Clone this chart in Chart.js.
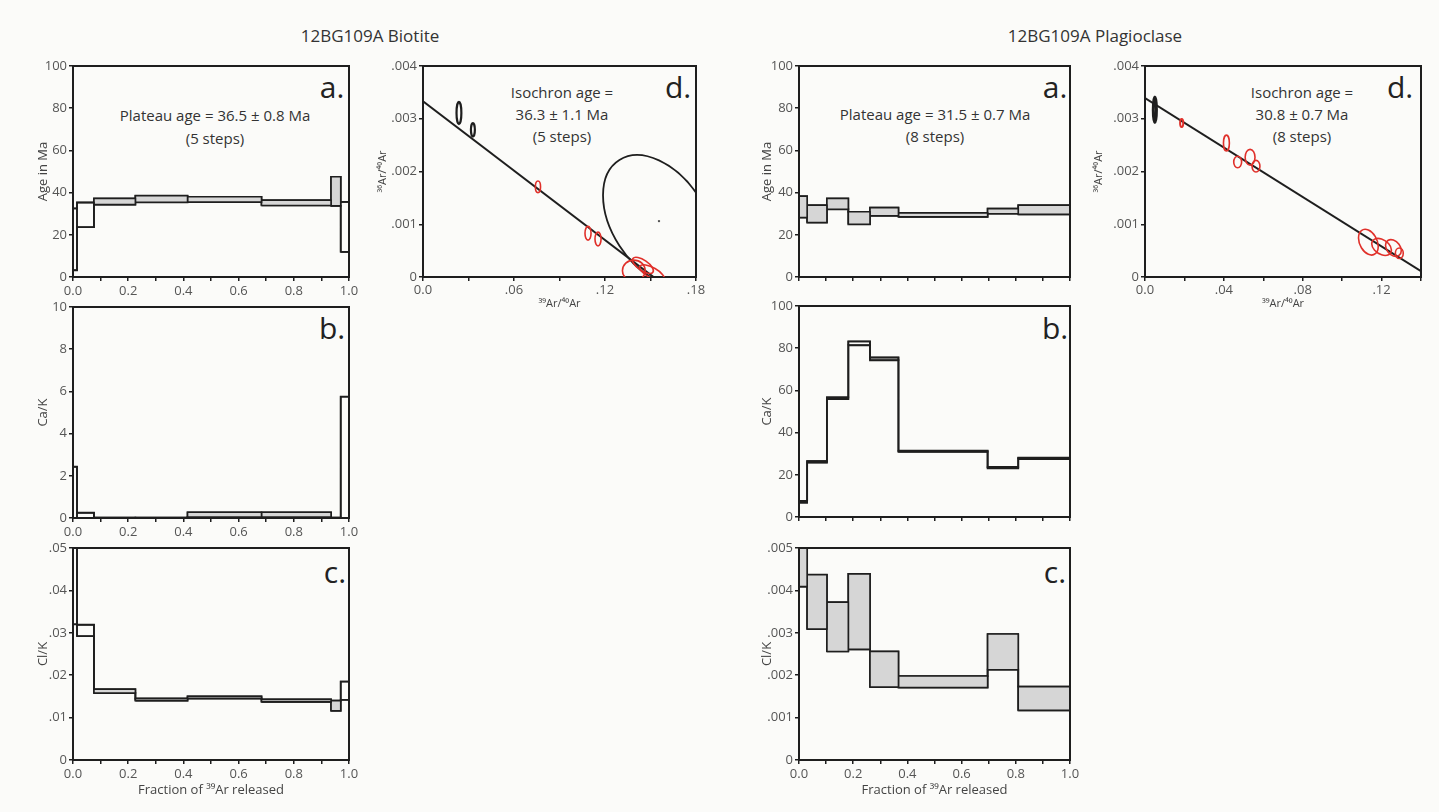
<!DOCTYPE html>
<html>
<head>
<meta charset="utf-8">
<title>12BG109A</title>
<script src="https://cdn.jsdelivr.net/npm/chart.js@4.4.1/dist/chart.umd.min.js"></script>
<style>
  body { margin:0; width:1439px; height:812px; position:relative; overflow:hidden; background:#fbfbf9; font-family:"Open Sans", sans-serif; color:#333; }
  .t { position:absolute; white-space:nowrap; transform:translate(-50%,-50%); line-height:1; }
  .h { font-size:17px; }
  .n { font-size:15px; }
  .l { font-size:30px; color:#222; }
</style>
</head>
<body>

<div class="t h" style="left:370px;top:35px">12BG109A Biotite</div>
<div class="t h" style="left:1095px;top:35px">12BG109A Plagioclase</div>

<div class="t n" style="left:215px;top:115px">Plateau age = 36.5 ± 0.8 Ma</div>
<div class="t n" style="left:215px;top:138px">(5 steps)</div>
<div class="t l" style="left:332px;top:87px">a.</div>
<div class="t l" style="left:332px;top:328px">b.</div>
<div class="t l" style="left:335px;top:572px">c.</div>

<div class="t n" style="left:562px;top:92px">Isochron age =</div>
<div class="t n" style="left:562px;top:114px">36.3 ± 1.1 Ma</div>
<div class="t n" style="left:562px;top:136px">(5 steps)</div>
<div class="t l" style="left:678px;top:87px">d.</div>

<div class="t n" style="left:935px;top:114px">Plateau age = 31.5 ± 0.7 Ma</div>
<div class="t n" style="left:935px;top:136px">(8 steps)</div>
<div class="t l" style="left:1055px;top:87px">a.</div>
<div class="t l" style="left:1055px;top:328px">b.</div>
<div class="t l" style="left:1055px;top:572px">c.</div>

<div class="t n" style="left:1302px;top:92px">Isochron age =</div>
<div class="t n" style="left:1302px;top:114px">30.8 ± 0.7 Ma</div>
<div class="t n" style="left:1302px;top:136px">(8 steps)</div>
<div class="t l" style="left:1400px;top:87px">d.</div>

<script>
// ---- 12BG109A Biotite ----
const bioSteps   = [0, 0.0145, 0.076, 0.226, 0.415, 0.683, 0.935, 0.97, 1.0];
const bioPlateau = [false, false, true, true, true, true, true, false];
const bioAgeLo   = [3.2, 23.6, 34.3, 35.4, 35.5, 33.9, 33.7, 11.9];
const bioAgeHi   = [32.5, 35.3, 37.2, 38.5, 38.0, 36.4, 47.5, 35.6];
const bioCaKLo   = [0, 0, 0, 0, 0.05, 0.05, 0, 0];
const bioCaKHi   = [2.43, 0.25, 0.02, 0.02, 0.27, 0.27, 0.02, 5.75];
const bioClKLo   = [0.032, 0.0292, 0.0158, 0.0140, 0.0145, 0.0137, 0.0116, 0.0142];
const bioClKHi   = [0.07, 0.0319, 0.0167, 0.0145, 0.0150, 0.0143, 0.0140, 0.0185];

// isochron (39Ar/40Ar vs 36Ar/40Ar)
const bioIsoX  = [0, 0.152];
const bioIsoY  = [0.00333, 0];
const bioEllX  = [0.0237, 0.0329, 0.1556, 0.0758, 0.1088, 0.1154, 0.139, 0.145, 0.151];
const bioEllY  = [0.00311, 0.00279, 0.00106, 0.00171, 0.00083, 0.00072, 0.00012, 0.00022, 0.00008];
const bioEllUx = [0.0016, 0.0013, 0.0369, 0.0017, 0.0020, 0.0020, 0.0075, 0.0066, 0.0079];
const bioEllUy = [0, 0, -0.00049, 0, 0, 0, 0, -0.00013, -0.00013];
const bioEllVx = [0, 0, 0, 0, 0, 0, 0, -0.0020, -0.0020];
const bioEllVy = [0.00021, 0.000127, 0.00115, 0.00011, 0.00013, 0.00013, 0.00020, -0.00008, -0.00008];
const bioEllIn = [false, false, false, true, true, true, true, true, true];

// ---- 12BG109A Plagioclase ----
const plgSteps   = [0, 0.03, 0.103, 0.182, 0.262, 0.367, 0.696, 0.809, 1.0];
const plgPlateau = [true, true, true, true, true, true, true, true];
const plgCaKFill = [false, false, false, false, false, false, false, false];
const plgAgeLo   = [28.2, 25.8, 32.1, 25.0, 29.0, 28.5, 30.0, 29.7];
const plgAgeHi   = [38.3, 34.0, 37.2, 30.9, 32.9, 30.4, 32.4, 34.0];
const plgCaKLo   = [6.8, 25.8, 55.9, 81.4, 74.3, 30.9, 23.1, 27.5];
const plgCaKHi   = [7.6, 26.5, 56.7, 83.2, 75.6, 31.4, 23.7, 28.1];
const plgClKLo   = [0.00409, 0.00309, 0.00256, 0.00261, 0.00172, 0.00171, 0.00213, 0.00117];
const plgClKHi   = [0.0056, 0.00437, 0.00372, 0.00439, 0.00256, 0.00198, 0.00297, 0.00173];

const plgIsoX  = [0, 0.14];
const plgIsoY  = [0.00339, 0.00011];
const plgEllX  = [0.005, 0.0186, 0.0413, 0.047, 0.0533, 0.0563, 0.1133, 0.120, 0.126, 0.129];
const plgEllY  = [0.00317, 0.00292, 0.00254, 0.00218, 0.00227, 0.00210, 0.00066, 0.00057, 0.00055, 0.00045];
const plgEllUx = [0.0008, 0.0008, 0.0015, 0.0020, 0.0025, 0.0020, 0.0050, 0.0050, 0.0040, 0.0020];
const plgEllUy = [0, 0, 0, 0, 0, 0, -0.00008, -0.00006, -0.00005, 0];
const plgEllVx = [0, 0, 0, 0, 0, 0, 0, 0, 0, 0];
const plgEllVy = [0.00024, 0.000076, 0.00015, 0.00011, 0.00015, 0.00011, 0.00023, 0.00015, 0.00015, 0.0001];
const plgEllIn = [false, true, true, true, true, true, true, true, true, true];

const ink = '#1e1e1e', gray = '#d6d6d6', red = '#e0302a';
const tickFont = {family: 'Open Sans', size: 13};

// draw the outer frame of each plot
const frame = {
  id: 'frame',
  afterDatasetsDraw(chart) {
    const a = chart.chartArea, ctx = chart.ctx;
    ctx.save();
    ctx.strokeStyle = ink; ctx.lineWidth = 2;
    ctx.strokeRect(a.left, a.top, a.width, a.height);
    ctx.restore();
  }
};

// error ellipses, center + two conjugate half axes, in data units
function ellipses(e) {
  return {
    id: 'ellipses',
    afterDatasetsDraw(chart) {
      const {ctx, chartArea: a, scales: {x, y}} = chart;
      // pixels per data unit (measured across the axis range, no clamping)
      const kx = (x.getPixelForValue(x.max) - x.getPixelForValue(x.min)) / (x.max - x.min);
      const ky = (y.getPixelForValue(y.max) - y.getPixelForValue(y.min)) / (y.max - y.min);
      ctx.save();
      ctx.beginPath(); ctx.rect(a.left, a.top, a.width, a.height); ctx.clip();
      e.x.forEach((cx, i) => {
        ctx.save();
        ctx.transform(e.ux[i] * kx, e.uy[i] * ky, e.vx[i] * kx, e.vy[i] * ky,
                      x.getPixelForValue(cx), y.getPixelForValue(e.y[i]));
        ctx.beginPath(); ctx.arc(0, 0, 1, 0, Math.PI * 2);
        ctx.restore();
        ctx.strokeStyle = e.used[i] ? red : ink;
        ctx.lineWidth = e.width ? e.width[i] : 1.6;
        ctx.stroke();
      });
      ctx.restore();
    }
  };
}

function spectrum(steps, lo, hi, plateau) {
  const sets = [];
  for (let i = 0; i < lo.length; i++) {
    sets.push({
      data: [
        {x: steps[i], y: lo[i]}, {x: steps[i + 1], y: lo[i]},
        {x: steps[i + 1], y: hi[i]}, {x: steps[i], y: hi[i]}, {x: steps[i], y: lo[i]}
      ],
      borderColor: ink, borderWidth: 1.6,
      backgroundColor: gray, fill: plateau[i] ? 'shape' : false,
      pointRadius: 0, clip: 0
    });
  }
  const edge = arr => steps.slice(0, -1).map((x, i) => ({x: x, y: arr[i]}))
    .concat([{x: steps[steps.length - 1], y: arr[arr.length - 1]}]);
  [hi, lo].forEach(arr => sets.push({
    data: edge(arr), stepped: 'before', borderColor: ink, borderWidth: 1.8,
    fill: false, pointRadius: 0, clip: 0
  }));
  return sets;
}

function axis(o) {
  return {
    type: 'linear', min: o.min, max: o.max,
    afterFit: s => { if (o.w) s.width = o.w; if (o.h) s.height = o.h; },
    ticks: {
      stepSize: o.step, autoSkip: false, maxRotation: 0, color: '#555', font: tickFont,
      padding: o.pad !== undefined ? o.pad : 2,
      callback: o.fmt
    },
    grid: {drawOnChartArea: false, drawTicks: true, tickLength: 4, color: ink, lineWidth: 1.5},
    border: {display: true, color: ink, width: 2},
    title: o.title ? {
      display: true, text: o.title, color: '#444',
      font: {family: 'Open Sans', size: o.tsize || 13},
      padding: {top: 4, bottom: 4}
    } : {display: false}
  };
}

// plot area rect = [left, top, right, bottom]
function panel(rect, datasets, xs, ys, plugins) {
  const pt = 12, pr = 14, wy = ys.w, hx = xs.h;
  const w = wy + rect[2] - rect[0] + pr, h = pt + rect[3] - rect[1] + hx;
  const c = document.createElement('canvas');
  c.width = w; c.height = h;
  c.style.cssText = 'position:absolute;left:' + (rect[0] - wy) + 'px;top:' + (rect[1] - pt) +
    'px;width:' + w + 'px;height:' + h + 'px';
  document.body.appendChild(c);
  new Chart(c, {
    type: 'line',
    data: {datasets: datasets},
    options: {
      responsive: false, animation: false, devicePixelRatio: 1,
      layout: {padding: {top: pt, right: pr, left: 0, bottom: 0}},
      plugins: {legend: {display: false}, tooltip: {enabled: false}},
      elements: {line: {tension: 0}, point: {radius: 0}},
      scales: {x: axis(xs), y: axis(ys)}
    },
    plugins: [frame].concat(plugins || [])
  });
}

const frac1 = (v, i) => i % 2 ? '' : v.toFixed(1);
const none = () => '';
const plain = v => String(Math.round(v * 100) / 100);
const dec = n => v => v === 0 ? '0' : v.toFixed(n).replace(/^0/, '');
const isoX = (v, i) => i % 2 ? '' : (v === 0 ? '0.0' : v.toFixed(2).replace(/^0/, ''));
const fracTitle = 'Fraction of \u00b3\u2079Ar released';

// Biotite
panel([73, 66, 349, 277], spectrum(bioSteps, bioAgeLo, bioAgeHi, bioPlateau),
  {min: 0, max: 1, step: 0.1, fmt: frac1, h: 30},
  {min: 0, max: 100, step: 20, fmt: plain, w: 42, title: 'Age in Ma'});
panel([73, 307, 349, 518], spectrum(bioSteps, bioCaKLo, bioCaKHi, bioPlateau),
  {min: 0, max: 1, step: 0.1, fmt: frac1, h: 30},
  {min: 0, max: 10, step: 2, fmt: plain, w: 42, title: 'Ca/K'});
panel([73, 548, 349, 760], spectrum(bioSteps, bioClKLo, bioClKHi, bioPlateau),
  {min: 0, max: 1, step: 0.1, fmt: frac1, h: 42, title: fracTitle},
  {min: 0, max: 0.05, step: 0.01, fmt: dec(2), w: 42, title: 'Cl/K'});
panel([423, 66, 696, 277], [
    {data: bioIsoX.map((x, i) => ({x: x, y: bioIsoY[i]})), borderColor: ink, borderWidth: 2, pointRadius: 0, clip: 0},
    {data: [{x: bioEllX[2], y: bioEllY[2]}], showLine: false, pointRadius: 1.2, pointBackgroundColor: '#555', pointBorderWidth: 0}
  ],
  {min: 0, max: 0.18, step: 0.03, fmt: isoX, h: 37, pad: 1, title: '\u00b3\u2079Ar/\u2074\u2070Ar', tsize: 11},
  {min: 0, max: 0.004, step: 0.001, fmt: dec(3), w: 51, title: '\u00b3\u2076Ar/\u2074\u2070Ar', tsize: 11},
  [ellipses({x: bioEllX, y: bioEllY, ux: bioEllUx, uy: bioEllUy, vx: bioEllVx, vy: bioEllVy, used: bioEllIn,
             width: [2.2, 2.2, 1.8, 1.6, 1.6, 1.6, 1.6, 1.6, 1.6]})]);

// Plagioclase
panel([799, 66, 1070, 277], spectrum(plgSteps, plgAgeLo, plgAgeHi, plgPlateau),
  {min: 0, max: 1, step: 0.1, fmt: none, h: 20},
  {min: 0, max: 100, step: 20, fmt: plain, w: 44, title: 'Age in Ma'});
panel([799, 306, 1070, 517], spectrum(plgSteps, plgCaKLo, plgCaKHi, plgCaKFill),
  {min: 0, max: 1, step: 0.1, fmt: none, h: 20},
  {min: 0, max: 100, step: 20, fmt: plain, w: 44, title: 'Ca/K'});
panel([799, 548, 1070, 760], spectrum(plgSteps, plgClKLo, plgClKHi, plgPlateau),
  {min: 0, max: 1, step: 0.1, fmt: frac1, h: 42, title: fracTitle},
  {min: 0, max: 0.005, step: 0.001, fmt: dec(3), w: 44, title: 'Cl/K'});
panel([1145, 66, 1421, 277], [
    {data: plgIsoX.map((x, i) => ({x: x, y: plgIsoY[i]})), borderColor: ink, borderWidth: 2, pointRadius: 0, clip: 0}
  ],
  {min: 0, max: 0.14, step: 0.02, fmt: isoX, h: 37, pad: 1, title: '\u00b3\u2079Ar/\u2074\u2070Ar', tsize: 11},
  {min: 0, max: 0.004, step: 0.001, fmt: dec(3), w: 57, title: '\u00b3\u2076Ar/\u2074\u2070Ar', tsize: 11},
  [ellipses({x: plgEllX, y: plgEllY, ux: plgEllUx, uy: plgEllUy, vx: plgEllVx, vy: plgEllVy, used: plgEllIn,
             width: [3, 2, 1.6, 1.6, 1.6, 1.6, 1.6, 1.6, 1.6, 1.6]})]);
</script>
</body>
</html>
